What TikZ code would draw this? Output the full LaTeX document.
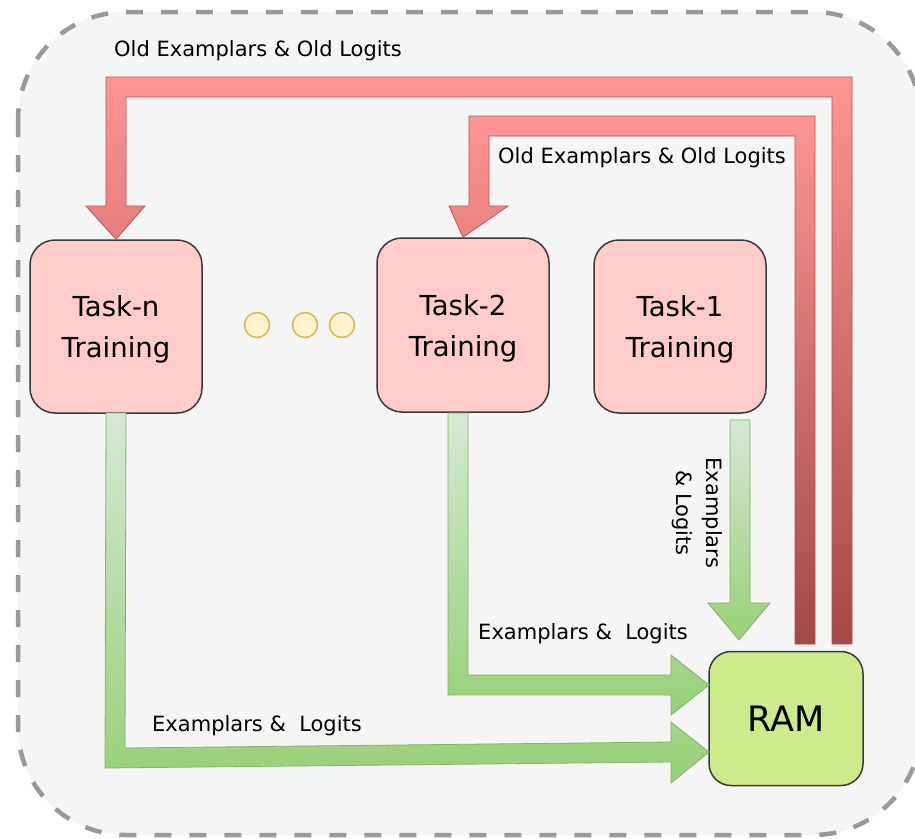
\documentclass[tikz,border=0pt]{standalone}
\usepackage{fontspec}
\setmainfont{DejaVu Sans}
\usetikzlibrary{calc}
\definecolor{bgfill}{HTML}{F5F5F5}
\definecolor{bgdash}{HTML}{999999}
\definecolor{pinkfill}{HTML}{FFCCCC}
\definecolor{boxline}{HTML}{36393D}
\definecolor{ramfill}{HTML}{CDEB8B}
\definecolor{dotfill}{HTML}{FFF2CC}
\definecolor{dotline}{HTML}{D6B656}
\definecolor{redtop}{HTML}{FF9494}
\definecolor{redbot}{HTML}{A34846}
\definecolor{redline}{HTML}{B85450}
\definecolor{greentop}{HTML}{D5E8D4}
\definecolor{greenbot}{HTML}{97D077}
\definecolor{greenline}{HTML}{82B366}
\tikzset{
  taskbox/.style={draw=boxline, fill=pinkfill, line width=1.5pt, rounded corners=25pt,
    minimum width=172pt, minimum height=173pt, inner sep=0pt},
  tasktext/.style={align=center, inner sep=0pt, font=\fontsize{27.5}{41}\selectfont},
  rambox/.style={draw=boxline, fill=ramfill, line width=1.5pt, rounded corners=22pt,
    minimum width=154pt, minimum height=134pt, inner sep=0pt,
    font=\fontsize{35}{40}\selectfont},
  dotc/.style={circle, draw=dotline, fill=dotfill, line width=1.5pt, minimum size=25pt, inner sep=0pt},
  redflow/.style={top color=redtop, bottom color=redbot, draw=redline, line width=0.8pt},
  greenflow/.style={top color=greentop, bottom color=greenbot, draw=greenline, line width=0.8pt},
  lbl/.style={font=\fontsize{21}{30}\selectfont, inner sep=0pt, align=center},
}
\begin{document}
\begin{tikzpicture}[x=1pt,y=-1pt]
\useasboundingbox (0,0) rectangle (915,838);
\draw[bgdash, fill=bgfill, line width=4.5pt, dash pattern=on 17pt off 18pt, rounded corners=108pt]
  (18,12) rectangle (921,835);

% nodes
\node[taskbox] (tn) at (116,326.5) {};
\node[taskbox, minimum height=174pt] (t2) at (463,325) {};
\node[taskbox] (t1) at (680,326.5) {};
\node[tasktext] (tnt) at ($(tn.center)+(0,3)$) {Task-n\\Training};
\node[tasktext] (t2t) at ($(t2.center)+(0,3)$) {Task-2\\Training};
\node[tasktext] (t1t) at ($(t1.center)+(0,3)$) {Task-1\\Training};
\node[rambox] (ram) at (786,718.5) {RAM};
\node[dotc] (d1) at (257,325) {};
\node[dotc] (d2) at (305,325) {};
\node[dotc] (d3) at (342,325) {};

% red flows (RAM -> tasks)
\path[redflow] (852,644) -- (852,77) -- (106,77) -- (106,206) -- (86,206) -- (tn.north)
  -- (145,206) -- (126,206) -- (126,97) -- (832,97) -- (832,644) -- cycle;
\path[redflow] (815,644) -- (815,116) -- (469,116) -- (469,206) -- (449,206) -- (t2.north)
  -- (508,206) -- (489,206) -- (489,136) -- (795,136) -- (795,644) -- cycle;

% green flows (tasks -> RAM)
\path[greenflow] (106,413) -- (105,768) -- (671,762) -- (671,783) -- (709,752)
  -- (671,722) -- (671,742) -- (125,748) -- (126,413) -- cycle;
\path[greenflow] (448,413) -- (448,695) -- (671,695) -- (671,715) -- (709,685)
  -- (671,655) -- (671,675) -- (468,675) -- (468,413) -- cycle;
\path[greenflow] (730,420) -- (730,603) -- (708,603) -- (739,640) -- (770,603)
  -- (750,603) -- (750,420) -- cycle;

% labels
\node[lbl] (l1) at (258,51) {Old Examplars \& Old Logits};
\node[lbl] (l2) at (642,158) {Old Examplars \& Old Logits};
\node[lbl] (l3) at (257,726) {Examplars \&\ \ Logits};
\node[lbl] (l4) at (583,634) {Examplars \&\ \ Logits};
\node[lbl, rotate=-90] (l5) at (697,513) {Examplars\\\& Logits};
\end{tikzpicture}
\end{document}
